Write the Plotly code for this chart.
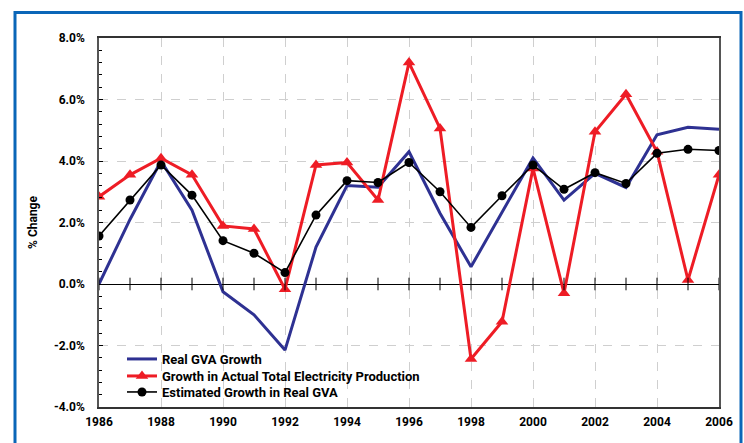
import plotly.graph_objects as go

years = list(range(1986, 2007))
real_gva = [0.0, 2.1, 4.0, 2.4, -0.25, -1.0, -2.15, 1.2, 3.2, 3.15, 4.3, 2.3, 0.56,
            2.35, 4.1, 2.73, 3.6, 3.14, 4.85, 5.1, 5.03]
electricity = [2.84, 3.55, 4.09, 3.55, 1.89, 1.79, -0.17, 3.87, 3.95, 2.73, 7.2, 5.06, -2.44,
               -1.23, 3.76, -0.3, 4.95, 6.17, 4.3, 0.13, 3.55]
estimated = [1.56, 2.73, 3.87, 2.89, 1.41, 1.0, 0.37, 2.24, 3.36, 3.3, 3.95, 3.0, 1.84,
             2.87, 3.87, 3.08, 3.62, 3.27, 4.25, 4.38, 4.34]

names = ["Real GVA Growth", "Growth in Actual Total Electricity Production",
         "Estimated Growth in Real GVA"]
y_ticks = [-4, -2, 0, 2, 4, 6, 8]
x_ticks = list(range(1986, 2007, 2))

FONT = "Roboto, DejaVu Sans, sans-serif"

fig = go.Figure()
fig.add_trace(go.Scatter(x=years, y=real_gva, mode="lines", name=names[0], legend="legend",
                         line=dict(color="#2e3192", width=3)))
fig.add_trace(go.Scatter(x=years, y=electricity, mode="lines+markers", name=names[1],
                         legend="legend2",
                         line=dict(color="#ee1c25", width=3),
                         marker=dict(symbol="triangle-up", size=11, color="#ee1c25")))
fig.add_trace(go.Scatter(x=years, y=estimated, mode="lines+markers", name=names[2],
                         legend="legend3",
                         line=dict(color="#000000", width=1.6),
                         marker=dict(symbol="circle", size=9, color="#000000")))
# tick marks crossing the zero line
fig.add_trace(go.Scatter(x=years, y=[0] * len(years), mode="markers", showlegend=False,
                         hoverinfo="skip",
                         marker=dict(symbol="line-ns", size=9,
                                     line=dict(color="#000000", width=1))))

W, H = 744, 443
L, R, T, B = 99, 25, 38, 36
pw, ph = W - L - R, H - T - B

def px(x):
    return (x - L) / pw

def py(y):
    return (H - B - y) / ph

fig.add_shape(type="rect", xref="paper", yref="paper",
              x0=px(15), x1=px(741), y0=py(460), y1=py(12.5),
              line=dict(color="#0a66b8", width=3), fillcolor="rgba(0,0,0,0)", layer="below")

legfont = dict(family=FONT, size=13, color="#000000", weight="bold")

def leg(ycenter):
    return dict(x=px(122), y=py(ycenter), xanchor="left", yanchor="middle",
                bgcolor="rgba(0,0,0,0)", borderwidth=0, font=legfont,
                tracegroupgap=0, itemwidth=30)

fig.update_layout(
    width=W, height=H,
    margin=dict(l=L, r=R, t=T, b=B),
    paper_bgcolor="white", plot_bgcolor="white",
    font=dict(family=FONT, size=12, color="#000000"),
    showlegend=True,
    legend=leg(359),
    legend2=leg(376),
    legend3=leg(392),
    xaxis=dict(range=[1986, 2006], tickvals=x_ticks, ticktext=[str(v) for v in x_ticks],
               showgrid=True, gridcolor="#cfcfcf", griddash="dash", gridwidth=1,
               showline=True, linecolor="#333333", linewidth=1.5, mirror=True,
               ticks="", zeroline=False, ticklabelstandoff=3,
               tickfont=dict(family=FONT, size=12, weight="bold")),
    yaxis=dict(range=[-4, 8], tickvals=y_ticks,
               ticktext=[f"{v:.1f}%" for v in y_ticks],
               showgrid=True, gridcolor="#cfcfcf", griddash="dash", gridwidth=1,
               showline=True, linecolor="#555555", linewidth=1.5, mirror=True,
               ticks="inside", ticklen=4, tickcolor="#000000",
               minor=dict(dtick=0.4, tick0=0, ticks="inside", ticklen=3, tickcolor="#000000",
                          showgrid=False),
               zeroline=True, zerolinecolor="#000000", zerolinewidth=1,
               ticklabelstandoff=10,
               title=dict(text="% Change", standoff=14,
                          font=dict(family=FONT, size=12, weight="bold")),
               tickfont=dict(family=FONT, size=12, weight="bold")),
)

fig.write_html("out.html", config={"displayModeBar": False},
               post_script="document.body.style.margin='0';")
